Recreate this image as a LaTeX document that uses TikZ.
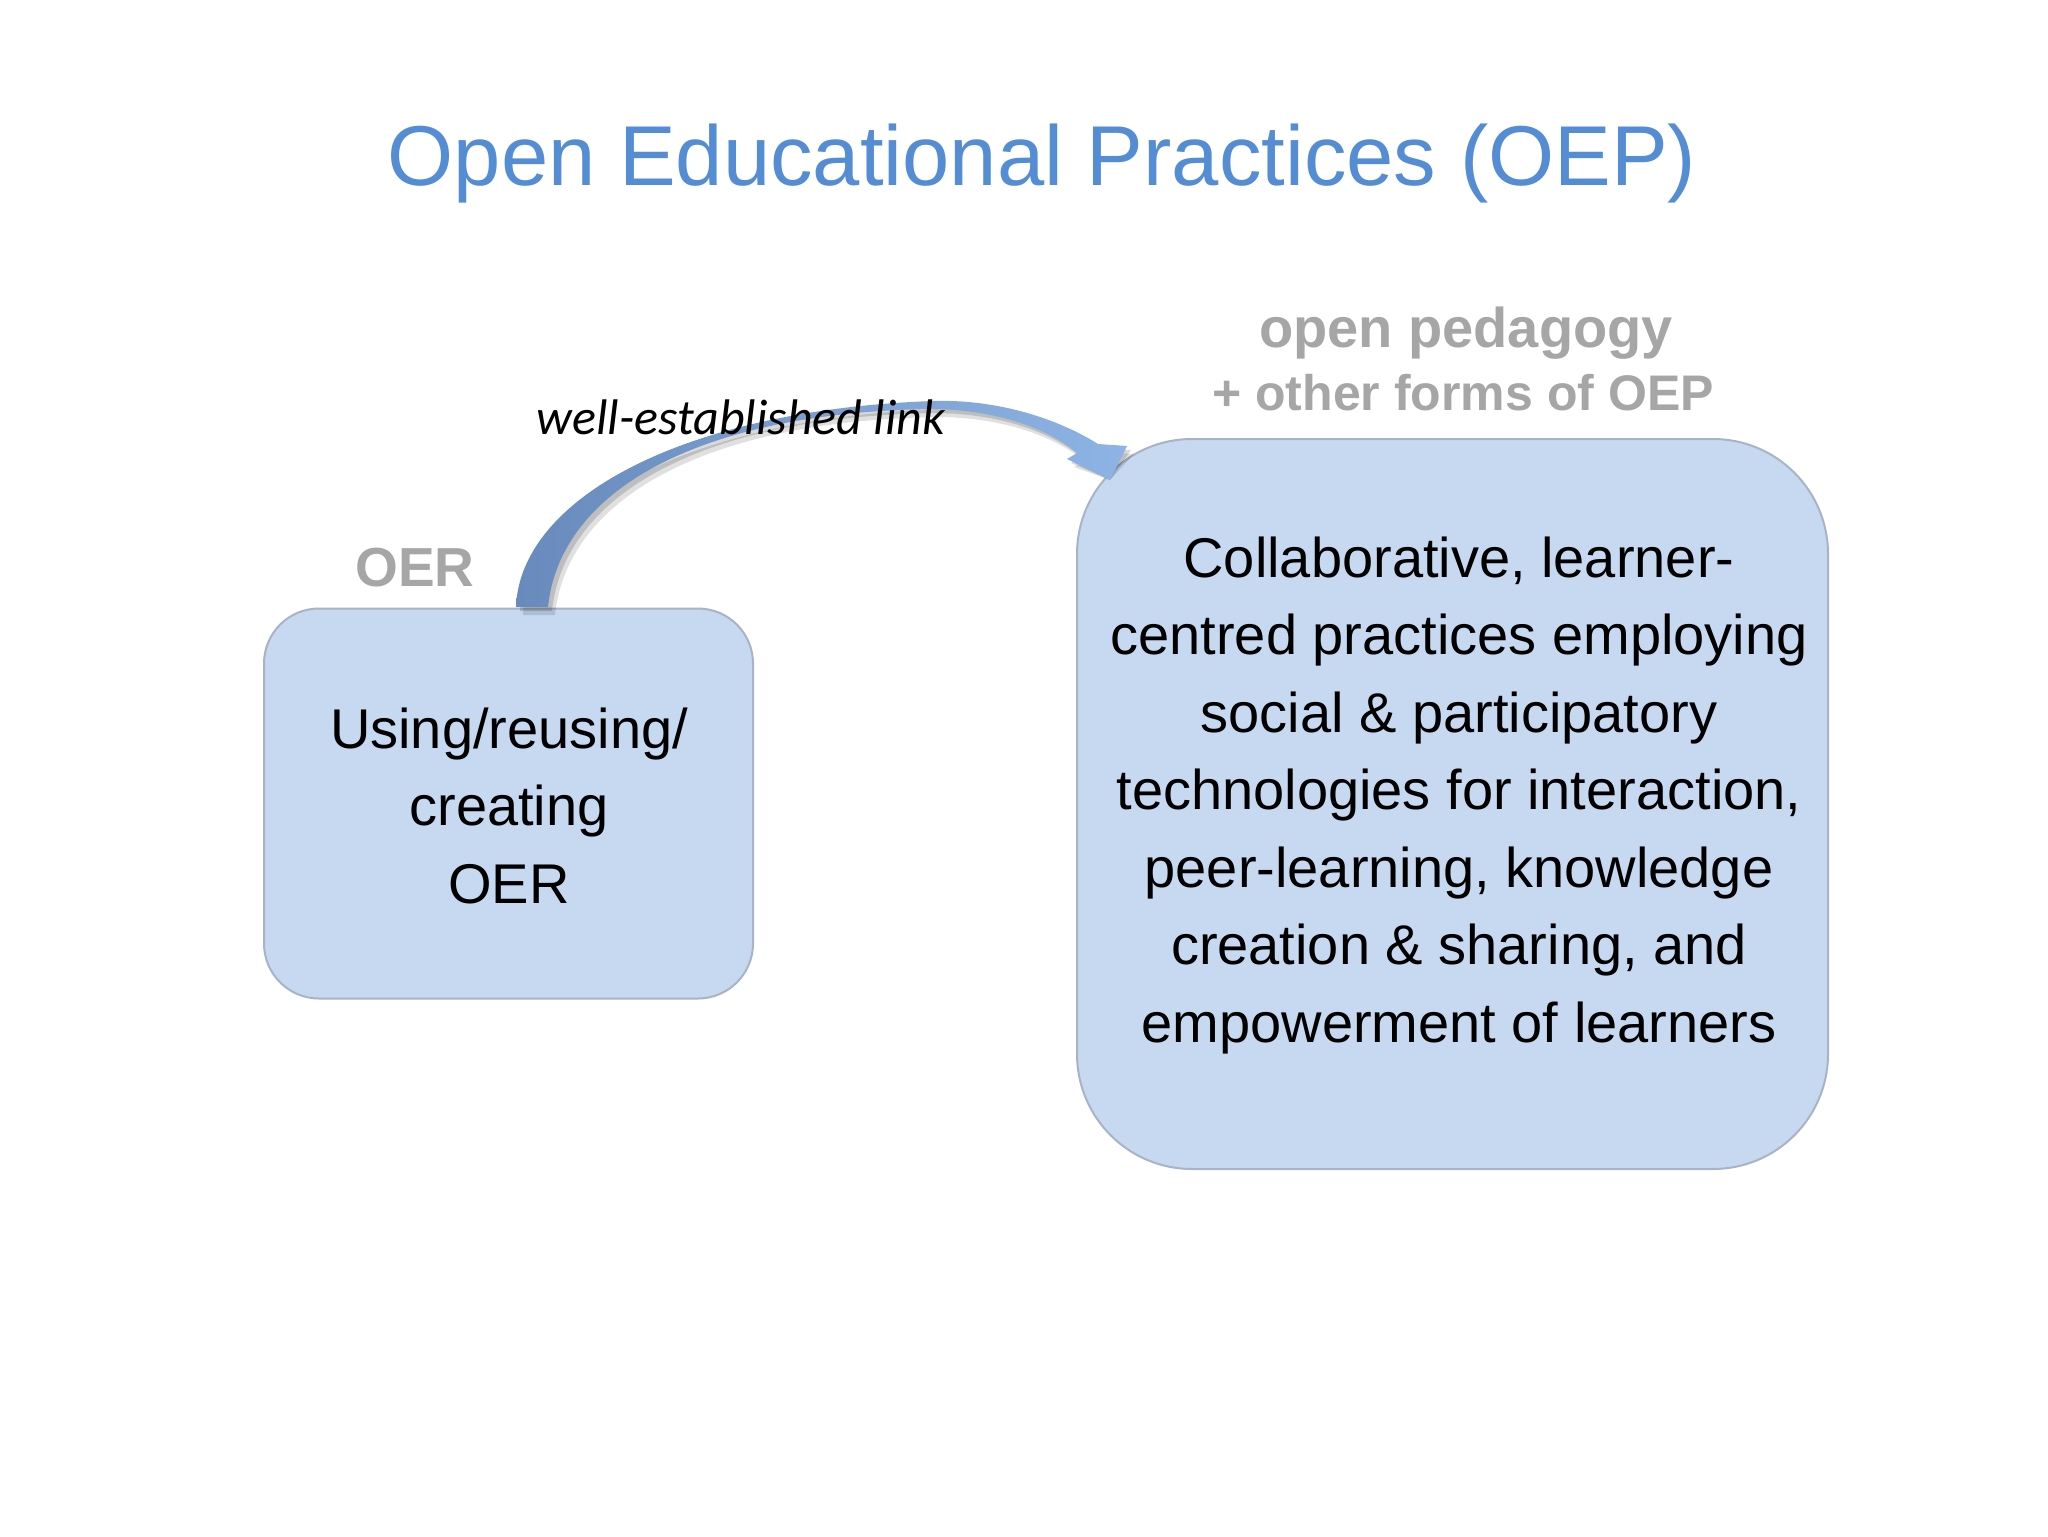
\documentclass[tikz,border=0pt]{standalone}
\usepackage{fontspec}
\setmainfont{Liberation Sans}
\newfontfamily\calibrifont{Carlito}
\definecolor{titleblue}{RGB}{84,141,212}
\definecolor{labelgray}{RGB}{166,166,166}
\definecolor{boxfill}{RGB}{198,217,240}
\definecolor{boxline}{RGB}{168,180,198}
\definecolor{arrdark}{RGB}{104,138,188}
\definecolor{arrlight}{RGB}{141,180,228}
\begin{document}
\begin{tikzpicture}[x=0.5pt,y=-0.5pt,
  boxstyle/.style={draw=boxline, fill=boxfill, line width=1pt, inner sep=0pt},
  graylabel/.style={text=labelgray, font=\bfseries, inner sep=0pt, anchor=base},
  boxtext/.style={inner sep=0pt, anchor=base, text=black}]
\useasboundingbox[fill=white] (0,0) rectangle (2048,1536);

% title
\node[anchor=base, inner sep=0pt, text=titleblue] (title) at (1042,185)
  {\fontsize{42.5}{50}\selectfont Open Educational Practices (OEP)};

% boxes
\node[boxstyle, rounded corners=27.5pt, minimum width=244.5pt, minimum height=195pt] (oer) at (508.5,803.5) {};
\node[boxstyle, rounded corners=57.5pt, minimum width=375.5pt, minimum height=365pt] (oep) at (1452.5,804) {};

% arrow from OER box to OEP box
\coordinate (arrstart) at (532,607);
\coordinate (arrtip) at (1110,480);
\def\arrowshape{(516,607) .. controls (520,500) and (680,410) .. (933,401)
  .. controls (1000,399) and (1060,420) .. (1098,444)
  -- (1127,446) -- (arrtip) -- (1067,459) -- (1077,453)
  .. controls (1050,430) and (1000,410) .. (933,409)
  .. controls (700,412) and (560,490) .. (548,607) -- cycle}
\fill[black, opacity=0.12, shift={(7,8)}] \arrowshape;
\fill[black, opacity=0.15, shift={(4,4)}] \arrowshape;
\shade[left color=arrdark, right color=arrlight] \arrowshape;

% labels
\node[graylabel] (oerlabel) at (415,586) {\fontsize{27.5}{33}\selectfont OER};
\node[graylabel] (ped1) at (1466,347) {\fontsize{28}{34}\selectfont open pedagogy};
\node[graylabel] (ped2) at (1463,410) {\fontsize{25}{30}\selectfont + other forms of OEP};
\node[anchor=base, inner sep=0pt] (link) at (741,434) {\fontsize{25}{30}\selectfont\calibrifont\itshape well-established link};

% box texts
\node[boxtext] (oertext) at (509,748) {\fontsize{28}{38.75}\selectfont
  \begin{tabular}[t]{@{}c@{}}Using/reusing/\\creating\\OER\end{tabular}};
\node[boxtext] (oeptext) at (1459,577) {\fontsize{28}{38.75}\selectfont
  \begin{tabular}[t]{@{}c@{}}Collaborative, learner-\\centred practices employing\\social \& participatory\\technologies for interaction,\\peer-learning, knowledge\\creation \& sharing, and\\empowerment of learners\end{tabular}};
\end{tikzpicture}
\end{document}
